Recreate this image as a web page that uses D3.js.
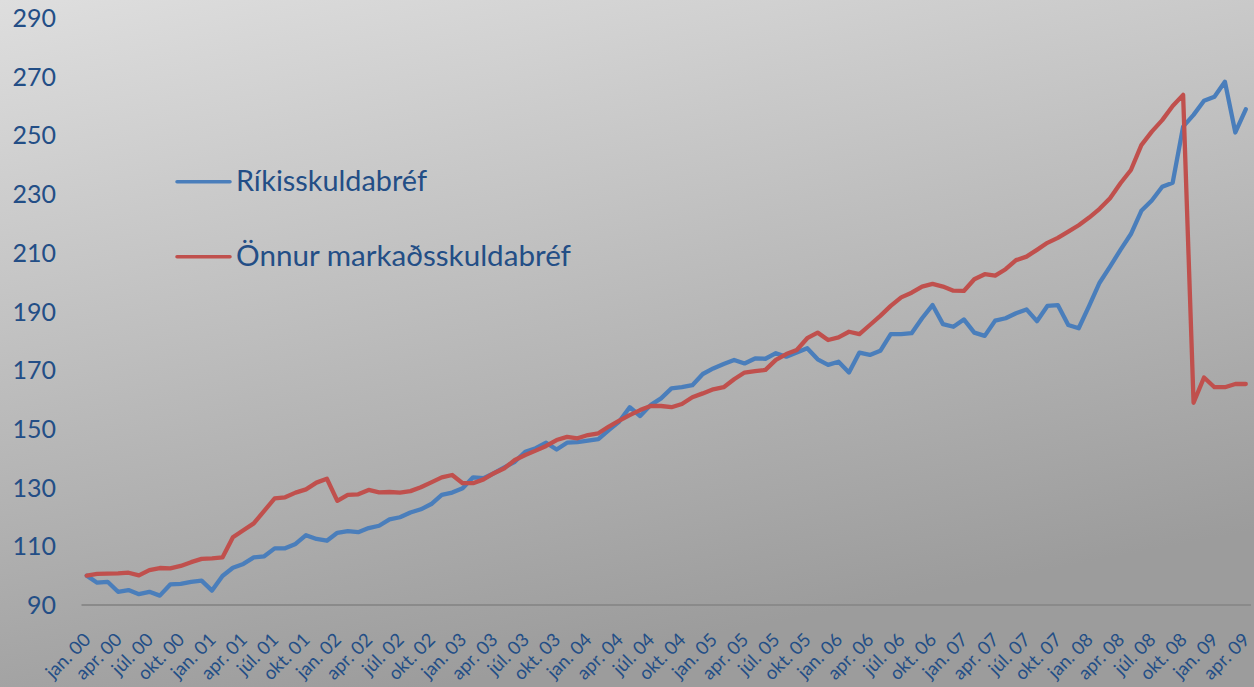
<!DOCTYPE html>
<html>
<head>
<meta charset="utf-8">
<script src="https://cdn.jsdelivr.net/npm/d3@7"></script>
<style>
  html, body { margin: 0; padding: 0; background: #c8c8c8; }
  svg { display: block; }
  text { font-family: Lato, "Open Sans", sans-serif; fill: #234e86; }
</style>
</head>
<body>
<svg id="chart" width="1254" height="687"></svg>
<script>
// month names and years for the category axis
var monthNames = ["jan.", "feb.", "mar.", "apr.", "maí", "jún.", "júl.", "ágú.", "sep.", "okt.", "nóv.", "des."];
var years = ["00", "01", "02", "03", "04", "05", "06", "07", "08", "09"];
var lastMonthIdx = 3; // data runs through apr. 09

var yTicks = [90, 110, 130, 150, 170, 190, 210, 230, 250, 270, 290];

var seriesNames = ["Ríkisskuldabréf", "Önnur markaðsskuldabréf"];
var seriesColors = ["#4a7ebb", "#c0504d"];
var legendWidths = [191, 335];

var rikis = [
  100, 97.6, 97.9, 94.5, 95.1, 93.7, 94.5, 93.2, 97.0, 97.2, 97.9, 98.3,
  94.9, 99.9, 102.7, 104.0, 106.2, 106.6, 109.3, 109.3, 110.8, 113.8, 112.5, 111.9,
  114.6, 115.2, 114.8, 116.2, 117.0, 119.2, 119.9, 121.5, 122.6, 124.4, 127.5, 128.3,
  129.8, 133.5, 133.2, 134.9, 136.9, 138.8, 142.2, 143.4, 145.3, 143.0, 145.3, 145.5,
  146.0, 146.5, 149.6, 152.5, 157.4, 154.4, 158.1, 160.4, 163.8, 164.2, 164.9, 168.7,
  170.6, 172.1, 173.5, 172.3, 174.0, 173.9, 175.8, 174.6, 176.0, 177.5, 173.7, 171.8,
  172.9, 169.2, 176.0, 175.2, 176.6, 182.3, 182.3, 182.6, 187.7, 192.2, 185.7, 184.8,
  187.3, 182.8, 181.7, 186.9, 187.7, 189.4, 190.7, 186.7, 191.9, 192.2, 185.4, 184.3,
  191.9, 199.8, 205.3, 211.0, 216.4, 224.3, 227.8, 232.5, 233.9, 253.0, 257.0, 261.8,
  263.2, 268.3, 251.0, 258.9
];

var onnur = [
  100, 100.6, 100.7, 100.8, 101.0, 100.1, 101.9, 102.6, 102.5, 103.3, 104.6, 105.7,
  105.9, 106.2, 113.1, 115.5, 117.8, 122.1, 126.3, 126.7, 128.3, 129.4, 131.7, 133.0,
  125.5, 127.5, 127.7, 129.2, 128.4, 128.5, 128.3, 128.8, 130.1, 131.8, 133.5, 134.3,
  131.5, 131.5, 132.8, 134.9, 136.6, 139.4, 141.1, 142.6, 144.2, 146.2, 147.3, 146.8,
  147.9, 148.5, 150.8, 152.8, 154.7, 156.4, 157.8, 157.8, 157.4, 158.5, 160.8, 162.1,
  163.5, 164.2, 166.9, 169.2, 169.7, 170.1, 173.5, 175.5, 176.9, 180.9, 182.8, 180.3,
  181.2, 183.1, 182.3, 185.4, 188.5, 191.9, 194.8, 196.4, 198.5, 199.4, 198.5, 197.1,
  197.0, 201.0, 202.7, 202.2, 204.4, 207.5, 208.7, 211.0, 213.4, 215.1, 217.2, 219.4,
  222.0, 225.0, 228.6, 233.7, 238.2, 246.7, 251.3, 255.2, 260.0, 263.8, 158.9, 167.5,
  164.2, 164.2, 165.3, 165.3
];

var categories = [];
years.forEach(function(yr, yi){
  monthNames.forEach(function(m, mi){
    if (yi === years.length - 1 && mi > lastMonthIdx) return;
    categories.push(m + " " + yr);
  });
});

var svg = d3.select("#chart");

// gray gradient background
var defs = svg.append("defs");
var grad = defs.append("linearGradient")
  .attr("id", "bg")
  .attr("x1", "0").attr("y1", "0")
  .attr("x2", "0.35").attr("y2", "1");
grad.append("stop").attr("offset", "0").attr("stop-color", "#dedede");
grad.append("stop").attr("offset", "1").attr("stop-color", "#9c9c9c");
svg.append("rect").attr("width", 1254).attr("height", 687).attr("fill", "url(#bg)");

var x = d3.scaleBand().domain(categories).range([81.5, 1251]).padding(0);
var y = d3.scaleLinear().domain([90, 290]).range([605, 18]);
function cx(d) { return x(d) + x.bandwidth() / 2; }

// y labels
svg.append("g").selectAll("text")
  .data(yTicks)
  .enter().append("text")
  .attr("x", 56)
  .attr("y", function(d){ return y(d); })
  .attr("dy", "0.36em")
  .attr("text-anchor", "end")
  .style("font-size", "25px")
  .text(function(d){ return d; });

// baseline axis
svg.append("line")
  .attr("x1", x.range()[0]).attr("x2", x.range()[1])
  .attr("y1", y(90)).attr("y2", y(90))
  .attr("stroke", "#8a8a8a")
  .attr("stroke-width", 2);

// x labels every 3rd month
svg.append("g").selectAll("text")
  .data(categories.filter(function(d, i){ return i % 3 === 0; }))
  .enter().append("text")
  .attr("transform", function(d){ return "translate(" + (cx(d) + 5) + ",641) rotate(-45)"; })
  .attr("text-anchor", "end")
  .style("font-size", "18.5px")
  .text(function(d){ return d; });

// lines
var line = d3.line()
  .x(function(d, i){ return cx(categories[i]); })
  .y(function(d){ return y(d); });

[rikis, onnur].forEach(function(s, k){
  svg.append("path")
    .datum(s)
    .attr("d", line)
    .attr("fill", "none")
    .attr("stroke", seriesColors[k])
    .attr("stroke-width", 4.3)
    .attr("stroke-linejoin", "round")
    .attr("stroke-linecap", "round");
});

// legend
var legend = svg.append("g").selectAll("g")
  .data(seriesNames)
  .enter().append("g")
  .attr("transform", function(d, i){ return "translate(0," + (181.7 + i * 75) + ")"; });

legend.append("line")
  .attr("x1", 177).attr("x2", 230)
  .attr("stroke", function(d, i){ return seriesColors[i]; })
  .attr("stroke-width", 3.5)
  .attr("stroke-linecap", "round");

legend.append("text")
  .attr("x", 236)
  .attr("y", 9)
  .attr("textLength", function(d, i){ return legendWidths[i]; })
  .attr("lengthAdjust", "spacingAndGlyphs")
  .style("font-size", "28px")
  .text(function(d){ return d; });
</script>
</body>
</html>
